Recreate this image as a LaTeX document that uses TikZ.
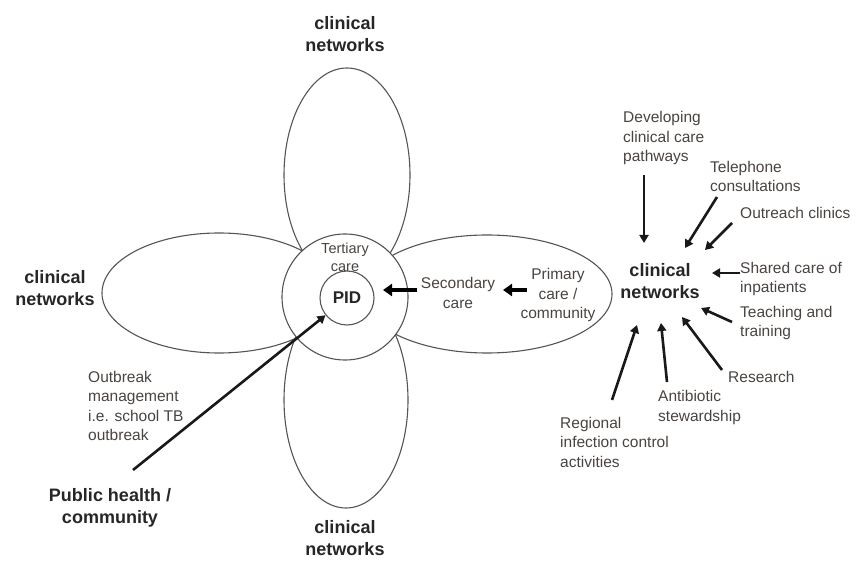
\documentclass[tikz,border=0pt]{standalone}
\usepackage{fontspec}
\setmainfont{Liberation Sans}
\usetikzlibrary{arrows.meta}
\definecolor{petalc}{HTML}{555555}
\definecolor{txtc}{HTML}{4a4440}
\begin{document}
\begin{tikzpicture}[x=1pt,y=-1pt,
 petal/.style={draw=petalc, line width=1.1pt},
 lbl/.style={text=txtc, font=\fontsize{15.5}{19.5}\selectfont, inner sep=0pt, align=left, anchor=west},
 clbl/.style={text=txtc, font=\fontsize{15.5}{19.5}\selectfont, inner sep=0pt, align=center},
 big/.style={text=black!85, font=\bfseries\fontsize{18}{22}\selectfont, inner sep=0pt, align=center},
 arr/.style={draw=black!90, line width=2.6pt, -{Triangle[length=8pt,width=9pt]}},
 harr/.style={draw=black, line width=3.4pt, -{Triangle[length=9pt,width=12pt]}}
]
\useasboundingbox (0,0) rectangle (862,561);
\fill[white] (0,0) rectangle (862,561);
% petals
\draw[petal] (347,175) ellipse [x radius=63pt, y radius=107pt];
\draw[petal] (346,400) ellipse [x radius=62pt, y radius=108pt];
\draw[petal] (219,293) ellipse [x radius=117pt, y radius=60pt];
\draw[petal] (487,294) ellipse [x radius=125pt, y radius=59pt];
\node[circle, petal, fill=white, minimum size=126pt, inner sep=0pt] (tert) at (345,297) {};
\node[circle, petal, minimum size=54pt, inner sep=0pt, text=black!85, font=\bfseries\fontsize{17}{20}\selectfont] (pid) at (347,298) {PID};
% centre texts
\node[clbl, font=\fontsize{14.5}{18}\selectfont] (tc) at (345,257) {Tertiary\\care};
\node[clbl] (sec) at (458,293) {Secondary\\care};
\node[clbl] (prim) at (558,295) {Primary\\care /\\community};
% bold labels
\node[big] (topcn) at (345,34) {clinical\\networks};
\node[big] (leftcn) at (55,288) {clinical\\networks};
\node[big] (botcn) at (345,538) {clinical\\networks};
\node[big] (hub) at (660,281) {clinical\\networks};
\node[big] (ph) at (110,508) {Public health /\\community};
% left text
\node[lbl] (outb) at (88,406) {Outbreak\\management\\i.e. school TB\\outbreak};
% right labels
\node[lbl] (dev) at (623,138) {Developing\\clinical care\\pathways};
\node[lbl] (tel) at (710,176.5) {Telephone\\consultations};
\node[lbl] (outr) at (740,213) {Outreach clinics};
\node[lbl] (shr) at (740,279) {Shared care of\\inpatients};
\node[lbl] (tea) at (740,323) {Teaching and\\training};
\node[lbl] (res) at (728,377) {Research};
\node[lbl] (ant) at (658,407.5) {Antibiotic\\stewardship};
\node[lbl] (reg) at (560,442) {Regional\\infection control\\activities};
% arrow end points
\coordinate (devS) at (644,175); \coordinate (devE) at (644,243);
\coordinate (telS) at (717,197); \coordinate (telE) at (685,248);
\coordinate (outS) at (732,223); \coordinate (outE) at (705,250);
\coordinate (shrS) at (740,273); \coordinate (shrE) at (712,273);
\coordinate (teaS) at (732,322); \coordinate (teaE) at (701,308);
\coordinate (resS) at (722,370); \coordinate (resE) at (682,317);
\coordinate (antS) at (667,382); \coordinate (antE) at (661,323);
\coordinate (regS) at (612,400); \coordinate (regE) at (637,325);
\coordinate (secS) at (417,290); \coordinate (secE) at (383,290);
\coordinate (primS) at (527,290); \coordinate (primE) at (503,290);
\coordinate (phS) at (133,470);
\draw[arr] (devS) -- (devE);
\draw[arr] (telS) -- (telE);
\draw[arr] (outS) -- (outE);
\draw[arr] (shrS) -- (shrE);
\draw[arr] (teaS) -- (teaE);
\draw[arr] (resS) -- (resE);
\draw[arr] (antS) -- (antE);
\draw[arr] (regS) -- (regE);
\draw[harr] (secS) -- (secE);
\draw[harr] (primS) -- (primE);
\draw[arr] (phS) -- (pid);
\end{tikzpicture}
\end{document}
